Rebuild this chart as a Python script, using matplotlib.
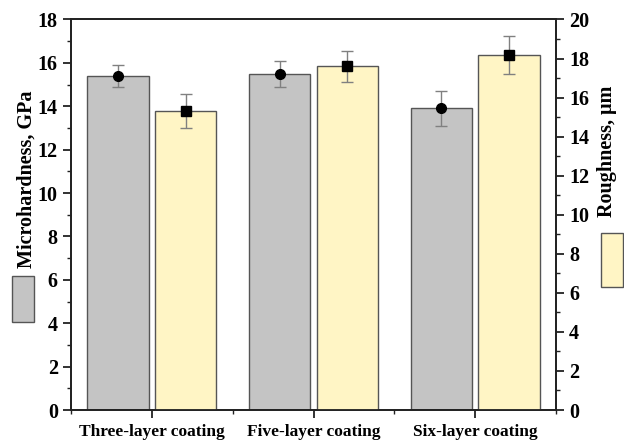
import matplotlib
matplotlib.use("Agg")
import matplotlib.pyplot as plt
from matplotlib.patches import Rectangle
from matplotlib.ticker import MultipleLocator
import numpy as np

categories = ["Three-layer coating", "Five-layer coating", "Six-layer coating"]
hardness = [15.4, 15.5, 13.9]
hardness_err = [0.5, 0.6, 0.8]
roughness = [15.3, 17.6, 18.2]
roughness_err = [0.87, 0.78, 0.98]

plt.rcParams['font.family'] = ['Liberation Serif', 'DejaVu Serif']
plt.rcParams['font.weight'] = 'bold'

gray = '#c4c4c4'
yellow = '#fff5c5'
edge = '#555555'
errc = '#808080'

fig = plt.figure(figsize=(6.24, 4.44), dpi=100)
ax = fig.add_axes([71/624, 1-410/444, (556-71)/624, (410-19.5)/444])
ax2 = ax.twinx()

x = np.arange(1, len(categories) + 1)
w = 0.38
off = 0.21

ax.bar(x - off, hardness, w, color=gray, edgecolor=edge, linewidth=1.0, zorder=2)
ax.errorbar(x - off, hardness, yerr=hardness_err, fmt='o', color='black', ms=7,
            ecolor=errc, elinewidth=1.0, capsize=4, capthick=1.0, zorder=3)
ax2.bar(x + off, roughness, w, color=yellow, edgecolor=edge, linewidth=1.0, zorder=2)
ax2.errorbar(x + off, roughness, yerr=roughness_err, fmt='s', color='black', ms=6.5,
             ecolor=errc, elinewidth=1.0, capsize=4, capthick=1.0, zorder=3)

ax.set_xlim(0.5, 3.5)
ax.set_ylim(0, 18)
ax2.set_ylim(0, 20)
ax.set_xticks(x)
ax.set_xticklabels(categories, fontsize=12.5, fontweight='bold')
ax.xaxis.set_minor_locator(MultipleLocator(0.5))
ax.yaxis.set_major_locator(MultipleLocator(2))
ax.yaxis.set_minor_locator(MultipleLocator(1))
ax2.yaxis.set_major_locator(MultipleLocator(2))
ax2.yaxis.set_minor_locator(MultipleLocator(1))

for a in (ax, ax2):
    for s in a.spines.values():
        s.set_linewidth(1.3)
        s.set_color('#222222')
    a.tick_params(which='major', direction='out', length=6, width=1.3, labelsize=14.5, color='#222222')
    a.tick_params(which='minor', direction='out', length=3, width=1.0, color='#222222')
    for lab in a.get_yticklabels():
        lab.set_fontweight('bold')
ax.tick_params(axis='x', which='major', labelsize=12.5, pad=4)
ax2.tick_params(axis='x', which='both', bottom=False, top=False)

# y labels with legend patches
fig.text(27/624, 1-179/444, "Microhardness, GPa", rotation=90, ha='center', va='center',
         fontsize=14.5, fontweight='bold')
fig.patches.append(Rectangle((12/624, 1-322/444), 22/624, 46/444, transform=fig.transFigure,
                             facecolor=gray, edgecolor=edge, linewidth=1.0))
fig.text(607/624, 1-151/444, "Roughness, μm", rotation=90, ha='center', va='center',
         fontsize=14.5, fontweight='bold')
fig.patches.append(Rectangle((601/624, 1-287/444), 22/624, 54/444, transform=fig.transFigure,
                             facecolor=yellow, edgecolor=edge, linewidth=1.0))

fig.savefig("out.png", dpi=100)
